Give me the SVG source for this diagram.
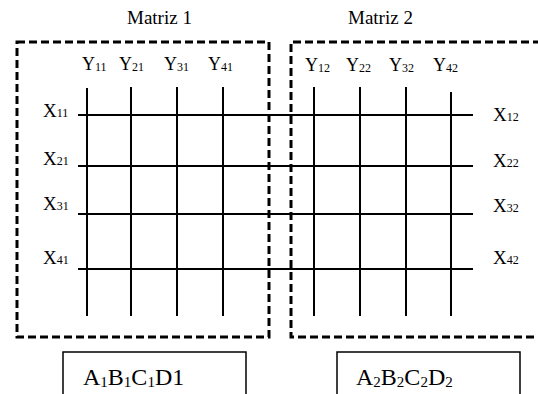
<svg xmlns="http://www.w3.org/2000/svg" width="538" height="394" viewBox="0 0 538 394">
<style>
text{font-family:"Liberation Serif","Times New Roman",serif;fill:#000}
.t{font-size:19px}
.y{font-size:18px}
.s{font-size:12px}
.b{font-size:24px}
.bs{font-size:15px}
.dash{fill:none;stroke:#000;stroke-width:3;stroke-dasharray:8 4}
.grid{stroke:#000;stroke-width:2;fill:none}
.box{fill:#fff;stroke:#000;stroke-width:1.5}
</style>
<rect width="538" height="394" fill="#fff"/>
<g id="matriz1">
<rect class="dash" x="17" y="42" width="252" height="295"/>
<text class="t" x="127" y="24">Matriz 1</text>
<text class="y" x="82" y="70">Y<tspan class="s" dy="1">11</tspan></text>
<text class="y" x="119" y="70">Y<tspan class="s" dy="1">21</tspan></text>
<text class="y" x="164" y="70">Y<tspan class="s" dy="1">31</tspan></text>
<text class="y" x="208" y="70">Y<tspan class="s" dy="1">41</tspan></text>
<text class="t" x="43" y="117">X<tspan class="s">11</tspan></text>
<text class="t" x="43" y="165">X<tspan class="s">21</tspan></text>
<text class="t" x="43" y="210">X<tspan class="s">31</tspan></text>
<text class="t" x="43" y="264">X<tspan class="s">41</tspan></text>
</g>
<g id="matriz2">
<path class="dash" d="M541,42 H291 V337 H541"/>
<text class="t" x="348" y="24">Matriz 2</text>
<text class="y" x="305" y="71">Y<tspan class="s" dy="1">12</tspan></text>
<text class="y" x="346" y="71">Y<tspan class="s" dy="1">22</tspan></text>
<text class="y" x="389" y="71">Y<tspan class="s" dy="1">32</tspan></text>
<text class="y" x="433" y="71">Y<tspan class="s" dy="1">42</tspan></text>
<text class="t" x="493" y="121">X<tspan class="s">12</tspan></text>
<text class="t" x="493" y="167">X<tspan class="s">22</tspan></text>
<text class="t" x="493" y="212">X<tspan class="s">32</tspan></text>
<text class="t" x="493" y="264">X<tspan class="s">42</tspan></text>
</g>
<g id="connectors">
<path class="grid" d="M78,115 H473 M78,166 H473 M78,214 H473 M78,269 H473"/>
<path class="grid" d="M87,88 V316 M131,87 V316 M177,87 V316 M223,87 V316"/>
<path class="grid" d="M314,87 V316 M360,87 V316 M406,87 V316 M451,92 V316"/>
</g>
<g id="resultado1">
<rect class="box" x="63" y="352" width="183" height="50"/>
<text class="b" x="83" y="385">A<tspan class="bs" dy="2">1</tspan><tspan dy="-2">B</tspan><tspan class="bs" dy="2">1</tspan><tspan dy="-2">C</tspan><tspan class="bs" dy="2">1</tspan><tspan dy="-2">D1</tspan></text>
</g>
<g id="resultado2">
<rect class="box" x="337" y="352" width="183" height="50"/>
<text class="b" x="356" y="385">A<tspan class="bs" dy="2">2</tspan><tspan dy="-2">B</tspan><tspan class="bs" dy="2">2</tspan><tspan dy="-2">C</tspan><tspan class="bs" dy="2">2</tspan><tspan dy="-2">D</tspan><tspan class="bs" dy="2">2</tspan></text>
</g>
</svg>
